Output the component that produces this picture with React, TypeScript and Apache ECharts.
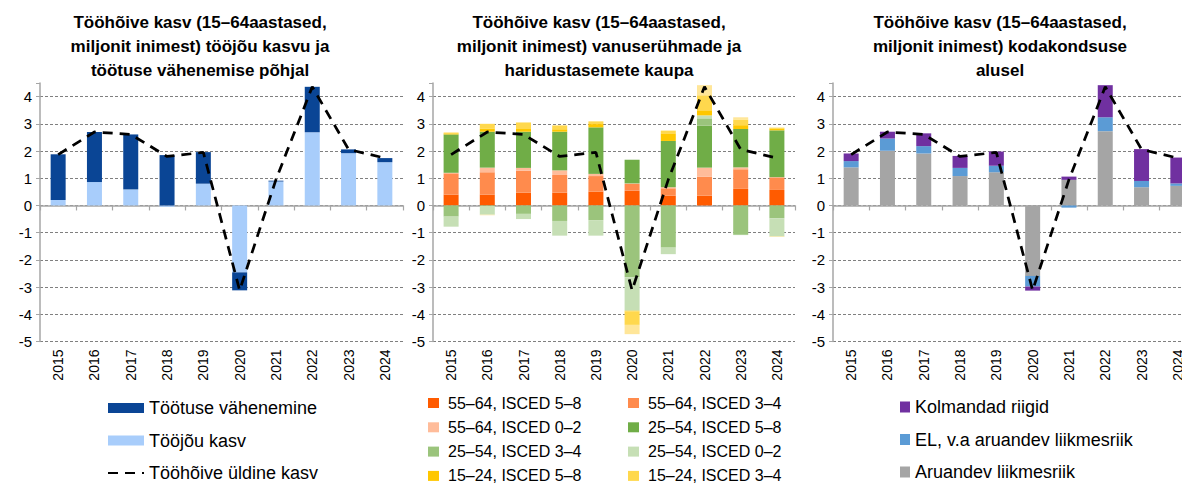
import React, { useEffect, useRef } from "react";
import * as echarts from "echarts";

const years = ["2015", "2016", "2017", "2018", "2019", "2020", "2021", "2022", "2023", "2024"];
const yTicks = [-5, -4, -3, -2, -1, 0, 1, 2, 3, 4];

// overall employment growth (dashed line)
const totalGrowth = [1.87, 2.7, 2.61, 1.8, 1.95, -3.12, 0.95, 4.36, 2.06, 1.74];

// panel 1
const unemploymentDecline = [1.68, 1.84, 2.02, 1.85, 1.16, -0.66, 0.03, 1.67, 0.14, 0.15];
const labourForceGrowth = [0.2, 0.86, 0.59, -0.05, 0.8, -2.46, 0.88, 2.69, 1.92, 1.59];

// panel 2
const a55_58 = [0.4, 0.4, 0.47, 0.47, 0.51, 0.54, 0.36, 0.36, 0.61, 0.57];
const a55_34 = [0.78, 0.82, 0.81, 0.65, 0.57, 0.25, 0.27, 0.7, 0.72, 0.46];
const a55_02 = [0.02, 0.17, 0.1, 0.17, 0.08, 0.02, 0.04, 0.33, 0.07, 0.01];
const a25_58 = [1.41, 1.32, 1.33, 1.42, 1.71, 0.87, 1.7, 1.54, 1.41, 1.72];
const a25_34 = [-0.41, -0.02, -0.31, -0.57, -0.54, -2.64, -1.55, 0.27, -1.08, -0.47];
const a25_02 = [-0.37, -0.32, -0.19, -0.54, -0.57, -1.23, -0.24, 0.11, -0.01, -0.67];
const a15_58 = [0.04, 0.12, 0.1, 0.09, 0.12, -0.02, 0.28, 0.16, 0.14, 0.07];
const a15_34 = [0.03, 0.17, 0.24, 0.14, 0.1, -0.5, 0.1, 0.58, 0.21, 0.03];
const a15_02 = [0.0, -0.02, 0.0, 0.0, 0.0, -0.34, 0.0, 0.37, 0.08, -0.02];

// panel 3
const reportingState = [1.4, 2.01, 1.91, 1.08, 1.22, -2.59, 0.94, 2.73, 0.67, 0.72];
const otherEU = [0.23, 0.45, 0.27, 0.3, 0.24, -0.39, -0.08, 0.51, 0.23, 0.09];
const thirdCountries = [0.28, 0.25, 0.47, 0.44, 0.52, -0.15, 0.12, 1.18, 1.17, 0.95];

const titles = [
  "Tööhõive kasv (15–64aastased,\nmiljonit inimest) tööjõu kasvu ja\ntöötuse vähenemise põhjal",
  "Tööhõive kasv (15–64aastased,\nmiljonit inimest) vanuserühmade ja\nharidustasemete kaupa",
  "Tööhõive kasv (15–64aastased,\nmiljonit inimest) kodakondsuse\nalusel",
];

const FONT = "'Liberation Sans', Arial, sans-serif";
const AXIS_GREY = "#a6a6a6";

export default function App() {
  const ref = useRef<HTMLDivElement>(null);
  useEffect(() => {
    if (!ref.current) return;
    const chart = echarts.init(ref.current, undefined, { renderer: "svg" });
    const lefts = [40, 433, 833];
    const widths = [363, 362, 363];
    const titleCenters = [200, 599, 1000];

    const grid = lefts.map((l, i) => ({ left: l, top: 83, width: widths[i], height: 258.5 }));
    const xAxis: any[] = [];
    const yAxis: any[] = [];
    for (let i = 0; i < 3; i++) {
      xAxis.push({
        type: "category",
        gridIndex: i,
        data: years,
        position: "top",
        axisLine: { onZero: true, lineStyle: { color: AXIS_GREY, width: 1.5 } },
        axisTick: { show: true, inside: true, length: 5, lineStyle: { color: AXIS_GREY, width: 1.2 } },
        axisLabel: { show: false },
        splitLine: { show: false },
      });
      xAxis.push({
        type: "category",
        gridIndex: i,
        data: years,
        position: "bottom",
        axisLine: { show: false, onZero: false },
        axisTick: { show: false },
        axisLabel: { rotate: 90, fontSize: 14, color: "#000", margin: 8, fontFamily: FONT },
        splitLine: { show: false },
      });
      yAxis.push({
        type: "value",
        gridIndex: i,
        min: yTicks[0],
        max: 4.5,
        interval: 1,
        axisLine: { show: true, lineStyle: { color: AXIS_GREY, width: 1.5 } },
        axisTick: { show: true, length: 4, lineStyle: { color: AXIS_GREY } },
        axisLabel: {
          fontSize: 15,
          color: "#000",
          margin: 8,
          fontFamily: FONT,
          formatter: (v: number) => (yTicks.includes(v) ? String(v) : ""),
        },
        splitLine: {
          show: true,
          showMaxLine: false,
          lineStyle: { color: "#7f7f7f", type: [3, 2], width: 1 },
        },
      });
    }

    const bar = (name: string, data: number[], color: string, p: number) => ({
      type: "bar",
      name,
      data,
      xAxisIndex: 2 * p,
      yAxisIndex: p,
      stack: "s" + p,
      barWidth: 15,
      itemStyle: { color },
    });
    const line = (p: number) => ({
      type: "line",
      name: "Tööhõive üldine kasv",
      data: totalGrowth,
      xAxisIndex: 2 * p,
      yAxisIndex: p,
      symbol: "none",
      z: 10,
      itemStyle: { color: "#000" },
      lineStyle: { color: "#000", width: 2.75, type: [10, 7] },
    });

    const series: any[] = [
      bar("Tööjõu kasv", labourForceGrowth, "#a8cdfb", 0),
      bar("Töötuse vähenemine", unemploymentDecline, "#0a4595", 0),
      line(0),
      bar("55–64, ISCED 5–8", a55_58, "#ff5b00", 1),
      bar("55–64, ISCED 3–4", a55_34, "#ff8b4d", 1),
      bar("55–64, ISCED 0–2", a55_02, "#ffbc9a", 1),
      bar("25–54, ISCED 5–8", a25_58, "#70ad47", 1),
      bar("25–54, ISCED 3–4", a25_34, "#9bc47c", 1),
      bar("25–54, ISCED 0–2", a25_02, "#c6dfb5", 1),
      bar("15–24, ISCED 5–8", a15_58, "#ffc700", 1),
      bar("15–24, ISCED 3–4", a15_34, "#ffd84d", 1),
      bar("15–24, ISCED 0–2", a15_02, "#ffe699", 1),
      line(1),
      bar("Aruandev liikmesriik", reportingState, "#a5a5a5", 2),
      bar("EL, v.a aruandev liikmesriik", otherEU, "#5b9bd5", 2),
      bar("Kolmandad riigid", thirdCountries, "#7030a0", 2),
      line(2),
    ];

    const legendBase = { orient: "vertical", selectedMode: false, padding: 0, height: 130 };
    const legend: any[] = [
      {
        ...legendBase,
        left: 107,
        top: 398,
        itemWidth: 36,
        itemHeight: 10,
        itemGap: 12.5,
        data: [
          { name: "Töötuse vähenemine", icon: "rect" },
          { name: "Tööjõu kasv", icon: "rect" },
          { name: "Tööhõive üldine kasv", itemStyle: { opacity: 0 } },
        ],
        textStyle: { fontSize: 18, color: "#000", lineHeight: 20, fontFamily: FONT },
      },
      {
        ...legendBase,
        left: 428,
        top: 395,
        itemWidth: 11,
        itemHeight: 10,
        itemGap: 8.3,
        icon: "rect",
        data: ["55–64, ISCED 5–8", "55–64, ISCED 0–2", "25–54, ISCED 3–4", "15–24, ISCED 5–8"],
        textStyle: { fontSize: 16, color: "#000", lineHeight: 16, fontFamily: FONT, padding: [0, 0, 0, 4] },
      },
      {
        ...legendBase,
        left: 628,
        top: 395,
        itemWidth: 11,
        itemHeight: 10,
        itemGap: 8.3,
        icon: "rect",
        data: ["55–64, ISCED 3–4", "25–54, ISCED 5–8", "25–54, ISCED 0–2", "15–24, ISCED 3–4"],
        textStyle: { fontSize: 16, color: "#000", lineHeight: 16, fontFamily: FONT, padding: [0, 0, 0, 4] },
      },
      {
        ...legendBase,
        left: 900,
        top: 397,
        itemWidth: 10,
        itemHeight: 11,
        itemGap: 12.5,
        icon: "rect",
        data: ["Kolmandad riigid", "EL, v.a aruandev liikmesriik", "Aruandev liikmesriik"],
        textStyle: { fontSize: 18, color: "#000", lineHeight: 20, fontFamily: FONT },
      },
    ];

    const graphic = titles.map((t, i) => ({
      type: "text",
      x: titleCenters[i],
      y: 10,
      silent: true,
      style: {
        text: t,
        textAlign: "center",
        textVerticalAlign: "top",
        fontSize: 17,
        fontWeight: "bold",
        fontFamily: FONT,
        lineHeight: 24,
        fill: "#000",
      },
    }));

    chart.setOption({
      animation: false,
      backgroundColor: "#fff",
      textStyle: { fontFamily: FONT },
      grid,
      xAxis,
      yAxis,
      series,
      legend,
      graphic,
    });
    return () => chart.dispose();
  }, []);

  return (
    <div style={{ position: "fixed", left: 0, top: 0, width: 1182, height: 484, overflow: "hidden", background: "#fff" }}>
      <div ref={ref} style={{ width: 1210, height: 540 }} />
    </div>
  );
}
